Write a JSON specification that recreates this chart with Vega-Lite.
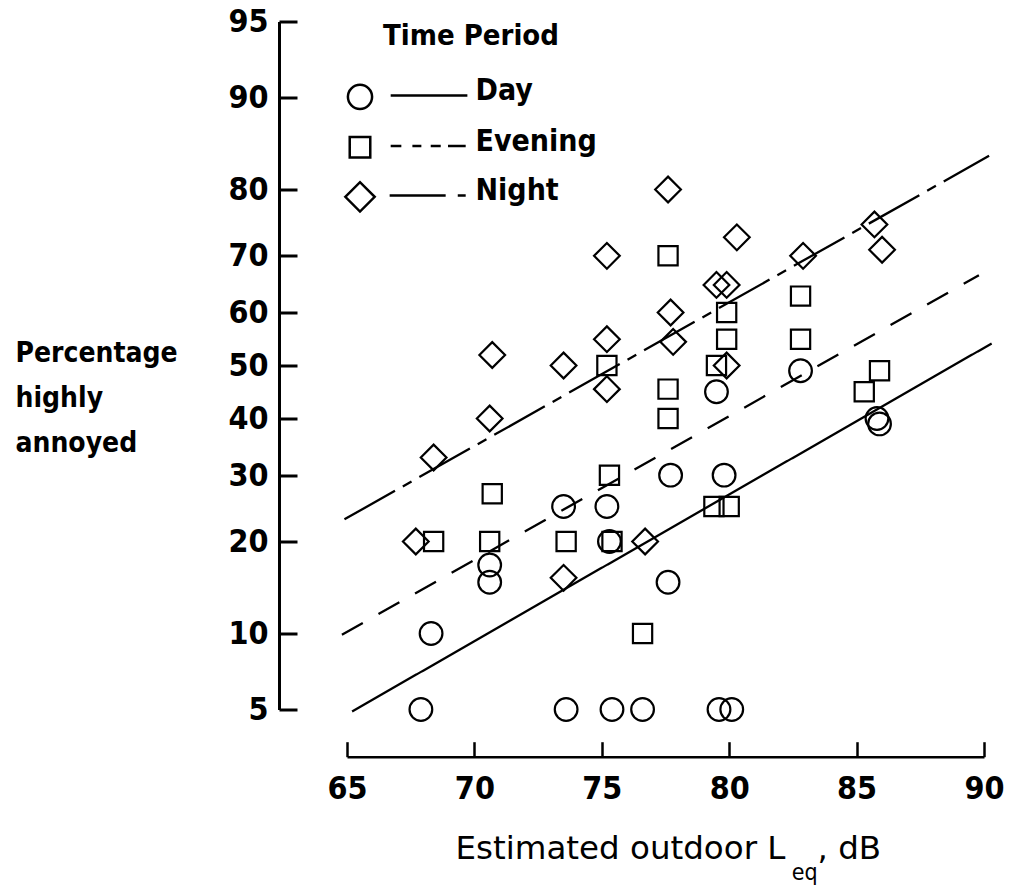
{
  "$schema": "https://vega.github.io/schema/vega-lite/v6.json",
  "width": 637,
  "height": 688,
  "autosize": {"type": "none"},
  "padding": {"left": 347, "top": 21.5, "right": 27, "bottom": 179.5},
  "background": "white",
  "config": {"view": {"stroke": null}, "font": "DejaVu Sans Condensed"},
  "title": {
    "text": "eq",
    "orient": "bottom",
    "anchor": "start",
    "frame": "group",
    "dx": 444.7,
    "offset": 15,
    "font": "DejaVu Sans Condensed",
    "fontSize": 23,
    "fontWeight": "normal",
    "baseline": "alphabetic",
    "color": "black"
  },
  "resolve": {"axis": {"x": "independent"}},
  "datasets": {
    "points": [
      {"period": "Day", "leq": 67.9, "pct": 5},
      {"period": "Day", "leq": 73.6, "pct": 5},
      {"period": "Day", "leq": 75.4, "pct": 5},
      {"period": "Day", "leq": 76.6, "pct": 5},
      {"period": "Day", "leq": 79.6, "pct": 5},
      {"period": "Day", "leq": 80.1, "pct": 5},
      {"period": "Day", "leq": 68.3, "pct": 10},
      {"period": "Day", "leq": 70.6, "pct": 15},
      {"period": "Day", "leq": 70.6, "pct": 17},
      {"period": "Day", "leq": 77.6, "pct": 15},
      {"period": "Day", "leq": 75.3, "pct": 20},
      {"period": "Day", "leq": 73.5, "pct": 25},
      {"period": "Day", "leq": 75.2, "pct": 25},
      {"period": "Day", "leq": 77.7, "pct": 30},
      {"period": "Day", "leq": 79.8, "pct": 30},
      {"period": "Day", "leq": 79.5, "pct": 45},
      {"period": "Day", "leq": 82.8, "pct": 49},
      {"period": "Day", "leq": 85.8, "pct": 40},
      {"period": "Day", "leq": 85.9, "pct": 39},
      {"period": "Evening", "leq": 68.4, "pct": 20},
      {"period": "Evening", "leq": 70.6, "pct": 20},
      {"period": "Evening", "leq": 70.7, "pct": 27},
      {"period": "Evening", "leq": 73.6, "pct": 20},
      {"period": "Evening", "leq": 75.4, "pct": 20},
      {"period": "Evening", "leq": 75.3, "pct": 30},
      {"period": "Evening", "leq": 75.2, "pct": 50},
      {"period": "Evening", "leq": 76.6, "pct": 10},
      {"period": "Evening", "leq": 77.6, "pct": 40},
      {"period": "Evening", "leq": 77.6, "pct": 45.5},
      {"period": "Evening", "leq": 77.6, "pct": 70},
      {"period": "Evening", "leq": 79.4, "pct": 25},
      {"period": "Evening", "leq": 80.0, "pct": 25},
      {"period": "Evening", "leq": 79.5, "pct": 50},
      {"period": "Evening", "leq": 79.9, "pct": 55},
      {"period": "Evening", "leq": 79.9, "pct": 60},
      {"period": "Evening", "leq": 82.8, "pct": 55},
      {"period": "Evening", "leq": 82.8, "pct": 63},
      {"period": "Evening", "leq": 85.3, "pct": 45},
      {"period": "Evening", "leq": 85.9, "pct": 49},
      {"period": "Night", "leq": 67.7, "pct": 20},
      {"period": "Night", "leq": 68.4, "pct": 33},
      {"period": "Night", "leq": 70.6, "pct": 40},
      {"period": "Night", "leq": 70.7, "pct": 52},
      {"period": "Night", "leq": 73.5, "pct": 15.5},
      {"period": "Night", "leq": 73.5, "pct": 50},
      {"period": "Night", "leq": 75.2, "pct": 45.5},
      {"period": "Night", "leq": 75.2, "pct": 55},
      {"period": "Night", "leq": 75.2, "pct": 70},
      {"period": "Night", "leq": 76.7, "pct": 20},
      {"period": "Night", "leq": 77.6, "pct": 80},
      {"period": "Night", "leq": 77.7, "pct": 60},
      {"period": "Night", "leq": 77.8, "pct": 54.5},
      {"period": "Night", "leq": 79.5, "pct": 65},
      {"period": "Night", "leq": 79.9, "pct": 65},
      {"period": "Night", "leq": 79.9, "pct": 50},
      {"period": "Night", "leq": 80.3, "pct": 73},
      {"period": "Night", "leq": 82.9, "pct": 70},
      {"period": "Night", "leq": 85.7, "pct": 75},
      {"period": "Night", "leq": 86.0, "pct": 71}
    ],
    "lines": [
      {"period": "Day", "leq": 65.2, "pct": 4.9},
      {"period": "Day", "leq": 90.3, "pct": 54.2},
      {"period": "Evening", "leq": 64.8, "pct": 9.9},
      {"period": "Evening", "leq": 89.8, "pct": 66.7},
      {"period": "Night", "leq": 64.9, "pct": 23.1},
      {"period": "Night", "leq": 90.2, "pct": 84.2}
    ]
  },
  "layer": [
    {
      "data": {"name": "lines"},
      "transform": [{"calculate": "quantileNormal(datum.pct / 100)", "as": "z"}],
      "mark": {"type": "line", "stroke": "black", "strokeWidth": 2.3},
      "encoding": {
        "x": {
          "field": "leq",
          "type": "quantitative",
          "scale": {"domain": [65, 90], "nice": false, "zero": false},
          "axis": {
            "orient": "bottom",
            "values": [65, 70, 75, 80, 85, 90],
            "offset": 47.2,
            "grid": false,
            "domainColor": "black",
            "domainWidth": 2.5,
            "tickColor": "black",
            "tickWidth": 2.5,
            "tickSize": -15,
            "labelFont": "DejaVu Sans Condensed",
            "labelFontSize": 32,
            "labelFontWeight": "bold",
            "labelColor": "black",
            "labelBaseline": "alphabetic",
            "labelPadding": 56.6,
            "labelFlush": false,
            "labelOverlap": false,
            "title": "Estimated outdoor L",
            "titleFont": "DejaVu Sans",
            "titleFontSize": 32.5,
            "titleFontWeight": "normal",
            "titleColor": "black",
            "titleAlign": "left",
            "titleBaseline": "alphabetic",
            "titleX": 108,
            "titleY": 101.6
          }
        },
        "y": {
          "field": "z",
          "type": "quantitative",
          "scale": {"domain": [-1.6449, 1.6449], "nice": false, "zero": false},
          "axis": {
            "orient": "left",
            "values": [-1.6449, -1.2816, -0.8416, -0.5244, -0.2533, 0, 0.2533, 0.5244, 0.8416, 1.2816, 1.6449],
            "labelExpr": "round(cumulativeNormal(datum.value) * 100)",
            "offset": 68,
            "grid": false,
            "domainColor": "black",
            "domainWidth": 3,
            "tickColor": "black",
            "tickWidth": 3,
            "tickSize": -18,
            "labelFont": "DejaVu Sans Condensed",
            "labelFontSize": 32,
            "labelFontWeight": "bold",
            "labelColor": "black",
            "labelAlign": "right",
            "labelBaseline": "middle",
            "labelPadding": 29,
            "labelFlush": false,
            "labelOverlap": false,
            "title": ["Percentage", "highly", "annoyed"],
            "titleFont": "DejaVu Sans Condensed",
            "titleFontSize": 28,
            "titleFontWeight": "bold",
            "titleColor": "black",
            "titleAngle": 0,
            "titleAlign": "left",
            "titleBaseline": "top",
            "titleLineHeight": 45,
            "titleX": -264,
            "titleY": 318
          }
        },
        "strokeDash": {
          "field": "period",
          "type": "nominal",
          "scale": {"range": [[1, 0], [24, 18], [58, 9, 10, 9]]},
          "legend": null
        }
      }
    },
    {
      "data": {"name": "points"},
      "transform": [{"calculate": "quantileNormal(datum.pct / 100)", "as": "z"}],
      "mark": {"type": "point", "filled": false, "stroke": "black", "strokeWidth": 2.2},
      "encoding": {
        "x": {
          "field": "leq",
          "type": "quantitative",
          "axis": {
            "orient": "bottom",
            "offset": 47.2,
            "domain": false,
            "ticks": false,
            "labels": false,
            "grid": false,
            "title": ", dB",
            "titleFont": "DejaVu Sans",
            "titleFontSize": 32.5,
            "titleFontWeight": "normal",
            "titleColor": "black",
            "titleAlign": "left",
            "titleBaseline": "alphabetic",
            "titleX": 470,
            "titleY": 101.6
          }
        },
        "y": {"field": "z", "type": "quantitative"},
        "shape": {
          "field": "period",
          "type": "nominal",
          "scale": {"domain": ["Day", "Evening", "Night"], "range": ["circle", "square", "diamond"]},
          "legend": null
        },
        "size": {
          "field": "period",
          "type": "nominal",
          "scale": {"domain": ["Evening", "Day", "Night"], "range": [370, 660]},
          "legend": null
        },
        "opacity": {
          "field": "period",
          "type": "nominal",
          "scale": {"range": [1, 1]},
          "legend": {
            "title": "Time Period",
            "orient": "none",
            "legendX": -2,
            "legendY": 0.5,
            "padding": 0,
            "titleFont": "DejaVu Sans Condensed",
            "titleFontSize": 29,
            "titleFontWeight": "bold",
            "titleColor": "black",
            "titleAnchor": "middle",
            "titlePadding": 25,
            "labelFont": "DejaVu Sans Condensed",
            "labelFontSize": 30,
            "labelFontWeight": "bold",
            "labelColor": "black",
            "labelOffset": 100.5,
            "labelBaseline": "middle",
            "symbolSize": 676,
            "symbolStrokeWidth": 2.5,
            "symbolStrokeColor": "black",
            "symbolFillColor": "transparent",
            "rowPadding": 12.5,
            "symbolType": {"expr": "datum.value === 'Day' ? 'M-0.93 0.45A0.93 0.93 0 1 0 0.93 0.45A0.93 0.93 0 1 0 -0.93 0.45ZM2.36 0.35L8.26 0.35' : datum.value === 'Evening' ? 'M-0.79 -0.34L0.79 -0.34L0.79 1.24L-0.79 1.24ZM2.36 0.35L3.18 0.35M4.03 0.35L4.72 0.35M5.44 0.35L6.21 0.35M6.77 0.35L8.13 0.35' : 'M-1.13 0.45L0 -0.68L1.13 0.45L0 1.58ZM2.28 0.35L6.59 0.35M7.52 0.35L8.13 0.35'"}
          }
        }
      }
    }
  ]
}
